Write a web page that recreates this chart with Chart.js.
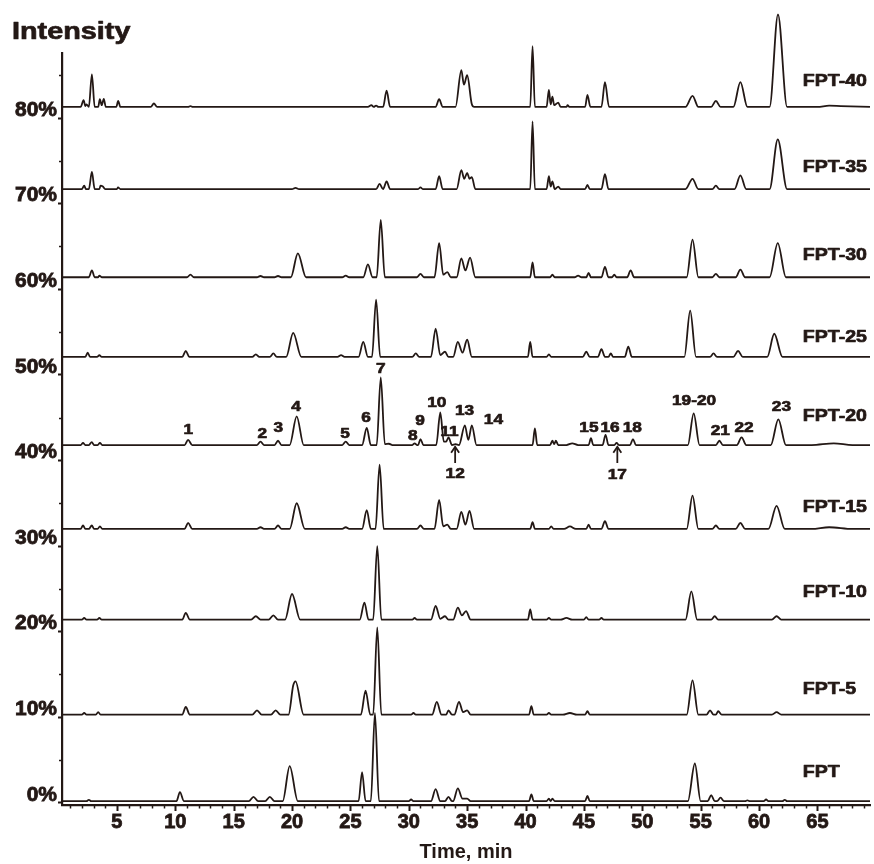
<!DOCTYPE html>
<html><head><meta charset="utf-8">
<script src="https://cdn.jsdelivr.net/npm/chart.js@4/dist/chart.umd.min.js"></script>
<style>html,body{margin:0;padding:0;background:#fff;}</style>
</head><body>
<canvas id="c" width="874" height="864"></canvas>
<script>
// ---------- DATA ----------
const sampleNames = ['FPT','FPT-5','FPT-10','FPT-15','FPT-20','FPT-25','FPT-30','FPT-35','FPT-40'];
// baseline level (in %) of each stacked trace
const baselineLevels = [0.2, 10.3, 21.4, 32.0, 41.8, 52.1, 61.4, 71.7, 81.3];
// each trace: flat list of [time(min), height above its baseline(%)]
const trace_FPT = [0.3,0, 2.4,0, 2.6,0.15, 2.8,0, 10.1,0, 10.4,1.05, 10.75,0, 16.3,0, 16.7,0.5, 17.1,0, 17.7,0, 18.1,0.5, 18.5,0, 19.2,0, 19.8,4.1, 20.5,0, 25.7,0, 26.0,3.4, 26.3,0, 26.75,0, 27.1,10.3, 27.45,0, 30.0,0, 30.2,0.2, 30.4,0, 31.9,0, 32.3,1.4, 32.7,0, 33.1,0, 33.4,0.5, 33.7,0, 33.8,0, 34.2,1.5, 34.6,0.3, 35.0,0.3, 35.3,0, 40.3,0, 40.5,0.8, 40.7,0, 41.8,0, 42.0,0.3, 42.15,0, 42.3,0.3, 42.5,0, 45.1,0, 45.3,0.6, 45.5,0, 53.9,0, 54.5,4.4, 55.0,0, 55.6,0, 55.9,0.7, 56.2,0, 56.4,0, 56.7,0.4, 57.0,0, 58.8,0, 59.0,0.1, 59.2,0, 60.4,0, 60.6,0.2, 60.8,0, 62.0,0, 62.2,0.15, 62.4,0, 69.5,0];
const trace_FPT5 = [0.3,0, 2.0,0, 2.2,0.2, 2.4,0, 3.2,0, 3.4,0.3, 3.6,0, 10.6,0, 10.9,0.9, 11.25,0, 16.6,0, 17.0,0.5, 17.4,0, 18.2,0, 18.6,0.5, 19.0,0, 19.7,0, 20.1,3.4, 20.3,3.9, 21.0,0, 25.9,0, 26.3,2.8, 26.7,0, 26.95,0, 27.3,10.2, 27.65,0, 30.2,0, 30.4,0.2, 30.6,0, 32.0,0, 32.4,1.5, 32.8,0, 33.2,0, 33.4,0.5, 33.7,0, 33.9,0, 34.3,1.5, 34.65,0.3, 35.0,0.5, 35.3,0, 40.3,0, 40.5,1.0, 40.7,0, 41.8,0, 42.0,0.2, 42.2,0, 43.2,0, 43.8,0.2, 44.4,0, 45.1,0, 45.3,0.4, 45.5,0, 53.8,0, 54.3,4.0, 54.8,0, 55.5,0, 55.8,0.5, 56.1,0, 56.3,0, 56.5,0.4, 56.8,0, 61.1,0, 61.5,0.3, 61.9,0, 69.5,0];
const trace_FPT10 = [0.3,0, 2.0,0, 2.2,0.2, 2.4,0, 3.3,0, 3.5,0.2, 3.7,0, 10.6,0, 10.9,0.8, 11.25,0, 16.5,0, 16.9,0.4, 17.3,0, 18.0,0, 18.4,0.5, 18.8,0, 19.4,0, 20.0,3.0, 20.7,0, 25.8,0, 26.2,2.0, 26.55,0, 26.95,0, 27.3,8.6, 27.65,0, 30.3,0, 30.5,0.2, 30.7,0, 31.9,0, 32.3,1.6, 32.7,0.1, 33.1,0.4, 33.4,0, 33.8,0, 34.2,1.4, 34.55,0.5, 34.9,1.0, 35.3,0, 40.2,0, 40.4,1.2, 40.6,0, 41.8,0, 42.0,0.2, 42.2,0, 43.0,0, 43.5,0.2, 44.0,0, 45.0,0, 45.2,0.3, 45.4,0, 46.3,0, 46.5,0.2, 46.7,0, 53.7,0, 54.2,3.3, 54.7,0, 55.9,0, 56.2,0.4, 56.5,0, 61.1,0, 61.5,0.4, 61.9,0, 69.5,0];
const trace_FPT15 = [0.3,0, 1.9,0, 2.1,0.4, 2.3,0, 2.6,0, 2.85,0.4, 3.05,0, 3.35,0, 3.55,0.3, 3.75,0, 10.8,0, 11.1,0.7, 11.45,0, 17.0,0, 17.3,0.2, 17.6,0, 18.5,0, 18.8,0.4, 19.1,0, 19.8,0, 20.4,3.0, 21.1,0, 24.3,0, 24.6,0.2, 24.9,0, 26.0,0, 26.4,2.2, 26.75,0, 27.15,0, 27.5,7.5, 27.85,0, 30.7,0, 31.0,0.4, 31.3,0, 32.2,0, 32.6,3.4, 32.95,0.3, 33.3,0.5, 33.6,0, 34.1,0, 34.5,2.0, 34.85,0.5, 35.2,2.1, 35.6,0, 40.4,0, 40.6,0.8, 40.8,0, 42.0,0, 42.2,0.3, 42.4,0, 43.3,0, 43.8,0.3, 44.3,0, 45.2,0, 45.4,0.5, 45.6,0, 46.5,0, 46.8,0.9, 47.1,0, 53.8,0, 54.3,3.9, 54.8,0, 56.0,0, 56.3,0.4, 56.6,0, 58.0,0, 58.4,0.7, 58.8,0, 60.8,0, 61.5,2.7, 62.2,0, 64.5,0, 66.0,0.2, 68.0,0, 69.5,0];
const trace_FPT20 = [0.3,0, 1.9,0, 2.1,0.25, 2.3,0, 2.6,0, 2.85,0.35, 3.05,0, 3.35,0, 3.55,0.25, 3.75,0, 10.8,0, 11.1,0.6, 11.45,0, 17.0,0, 17.3,0.4, 17.6,0, 18.5,0, 18.8,0.5, 19.1,0, 19.8,0, 20.4,3.35, 21.0,0, 24.3,0, 24.6,0.4, 24.9,0, 26.0,0, 26.4,2.0, 26.75,0, 27.25,0, 27.6,7.9, 27.95,0.1, 28.3,0.15, 28.6,0, 30.3,0, 30.5,0.2, 30.7,0, 30.8,0, 31.0,0.7, 31.25,0, 32.35,0, 32.7,3.8, 33.0,0.4, 33.2,0.4, 33.4,0.9, 33.7,0, 34.0,0.1, 34.3,0, 34.8,2.3, 35.1,0.6, 35.4,2.3, 35.8,0, 40.6,0, 40.8,1.95, 41.0,0, 42.1,0, 42.3,0.5, 42.45,0.1, 42.6,0.5, 42.8,0, 43.5,0, 44.0,0.2, 44.5,0, 45.4,0, 45.6,0.8, 45.8,0, 46.6,0, 46.85,1.2, 47.1,0, 47.6,0, 47.8,0.25, 48.0,0, 48.95,0, 49.2,0.7, 49.45,0, 53.9,0, 54.4,3.7, 54.9,0, 56.3,0, 56.6,0.5, 56.9,0, 58.1,0, 58.5,0.9, 58.9,0, 61.0,0, 61.65,3.0, 62.3,0, 64.5,0, 66.4,0.2, 68.0,0, 69.5,0];
const trace_FPT25 = [0.3,0, 2.3,0, 2.5,0.5, 2.7,0, 3.3,0, 3.5,0.2, 3.7,0, 10.6,0, 10.9,0.7, 11.2,0, 16.6,0, 16.9,0.3, 17.2,0, 18.1,0, 18.4,0.4, 18.7,0, 19.5,0, 20.1,2.8, 20.8,0, 23.9,0, 24.2,0.2, 24.5,0, 25.7,0, 26.1,1.75, 26.5,0, 26.85,0, 27.2,6.7, 27.55,0, 30.3,0, 30.6,0.4, 30.9,0, 31.9,0, 32.3,3.3, 32.7,0.2, 33.1,0.6, 33.4,0, 33.8,0, 34.2,1.75, 34.6,0.5, 35.0,2.0, 35.4,0, 40.2,0, 40.4,1.75, 40.6,0, 41.8,0, 42.0,0.3, 42.2,0, 44.9,0, 45.2,0.6, 45.5,0, 46.2,0, 46.5,0.9, 46.8,0, 47.1,0, 47.3,0.4, 47.5,0, 48.5,0, 48.8,1.2, 49.1,0, 53.6,0, 54.1,5.4, 54.6,0, 55.8,0, 56.1,0.4, 56.4,0, 57.8,0, 58.2,0.7, 58.6,0, 60.7,0, 61.3,2.7, 62.0,0, 69.5,0];
const trace_FPT30 = [0.3,0, 2.6,0, 2.86,0.8, 3.1,0, 3.4,0, 3.5,0.2, 3.7,0, 11.0,0, 11.3,0.3, 11.6,0, 17.0,0, 17.3,0.15, 17.6,0, 18.5,0, 18.8,0.15, 19.1,0, 19.9,0, 20.5,2.8, 21.2,0, 24.3,0, 24.6,0.2, 24.9,0, 26.1,0, 26.5,1.5, 26.9,0, 27.25,0, 27.6,6.7, 27.95,0, 30.7,0, 31.0,0.4, 31.3,0, 32.2,0, 32.6,4.0, 32.95,0.3, 33.3,0.6, 33.6,0, 34.1,0, 34.5,2.2, 34.85,0.8, 35.25,2.3, 35.7,0, 40.4,0, 40.6,1.75, 40.8,0, 42.1,0, 42.3,0.3, 42.5,0, 44.2,0, 44.5,0.2, 44.8,0, 45.2,0, 45.4,0.5, 45.6,0, 46.5,0, 46.8,1.2, 47.1,0, 47.4,0, 47.6,0.3, 47.8,0, 48.7,0, 49.0,0.8, 49.3,0, 53.8,0, 54.3,4.4, 54.8,0, 56.0,0, 56.3,0.4, 56.6,0, 58.0,0, 58.4,0.9, 58.8,0, 60.9,0, 61.6,4.0, 62.3,0, 69.5,0];
const trace_FPT35 = [0.3,0, 2.0,0, 2.2,0.4, 2.35,0, 2.6,0, 2.86,2.0, 3.1,0, 3.5,0, 3.6,0.4, 3.8,0.3, 4.0,0, 5.0,0, 5.1,0.2, 5.3,0, 20.0,0, 20.3,0.15, 20.6,0, 27.2,0, 27.5,0.6, 27.8,0, 28.1,0.9, 28.4,0, 30.8,0, 31.0,0.2, 31.2,0, 32.3,0, 32.6,1.5, 32.9,0, 34.1,0, 34.5,2.2, 34.75,1.2, 35.0,1.9, 35.2,1.2, 35.4,1.4, 35.7,0, 40.4,0, 40.6,7.9, 40.8,0, 41.8,0, 42.0,1.5, 42.15,0.3, 42.3,0.9, 42.5,0, 42.8,0.3, 43.0,0, 45.1,0, 45.3,0.5, 45.5,0, 46.5,0, 46.8,1.75, 47.1,0, 53.7,0, 54.3,1.2, 54.8,0, 56.0,0, 56.3,0.4, 56.6,0, 57.9,0, 58.4,1.6, 58.9,0, 60.9,0, 61.6,5.8, 62.4,0, 69.5,0];
const trace_FPT40 = [0.3,0, 1.9,0, 2.15,0.8, 2.3,0.1, 2.4,0.3, 2.6,0, 2.86,3.8, 3.1,0, 3.4,0, 3.54,0.9, 3.7,0.2, 3.88,0.95, 4.05,0, 4.95,0, 5.11,0.7, 5.3,0, 7.9,0, 8.17,0.4, 8.45,0, 11.1,0, 11.3,0.1, 11.5,0, 26.5,0, 26.8,0.2, 27.0,0, 27.2,0.15, 27.4,0, 27.8,0, 28.1,1.9, 28.4,0, 32.3,0, 32.6,0.9, 32.9,0, 34.0,0, 34.5,4.3, 34.72,2.6, 35.0,3.7, 35.4,0.3, 35.6,0, 40.4,0, 40.6,7.1, 40.8,0, 41.8,0, 42.0,2.0, 42.15,0.3, 42.3,1.2, 42.45,0.2, 42.8,0.5, 43.0,0, 43.5,0, 43.6,0.2, 43.75,0, 45.1,0, 45.3,1.4, 45.55,0, 46.5,0, 46.8,2.9, 47.15,0, 53.7,0, 54.3,1.3, 54.8,0, 55.9,0, 56.3,0.7, 56.7,0, 57.8,0, 58.4,2.9, 59.0,0, 60.9,0, 61.62,10.8, 62.4,0, 65.0,0, 66.0,0.15, 67.0,0.1, 69.5,0];
const traces = [trace_FPT, trace_FPT5, trace_FPT10, trace_FPT15, trace_FPT20, trace_FPT25, trace_FPT30, trace_FPT35, trace_FPT40];

const yTickValues = [0,10,20,30,40,50,60,70,80];
const xTickValues = [5,10,15,20,25,30,35,40,45,50,55,60,65];
const peakNumbers = ['1','2','3','4','5','6','7','8','9','10','11','12','13','14','15','16','17','18','19-20','21','22','23'];

// ---------- LAYOUT / STYLE (not data) ----------
const ink = '#231815';
const FONT = "'Liberation Sans', Arial, Helvetica, sans-serif";
// label anchors in axis units [time, %]
const traceLabelAnchors = [[63.75,3.6],[63.75,13.3],[63.75,24.6],[63.75,34.5],[63.75,45.1],[63.75,54.4],[63.75,64.0],[63.75,74.2],[63.75,84.35]];
const peakLabelAnchors = [[11.11,43.57],[17.45,43.1],[18.82,43.77],[20.34,46.3],[24.54,43.1],[26.34,44.94],[27.6,50.67],[30.34,42.87],[30.97,44.66],[32.4,46.69],[33.48,43.38],[33.97,38.43],[34.77,45.83],[37.25,44.74],[45.43,43.81],[47.23,43.81],[47.86,38.32],[49.14,43.81],[54.43,47.0],[56.68,43.49],[58.71,43.81],[61.91,46.26]];
const arrowAnchors = [[33.97,39.7,41.6],[47.86,39.7,41.6]];

const datasets = traces.map((arr, i) => {
  const pts = [];
  for (let k = 0; k < arr.length; k += 2) pts.push({x: arr[k], y: baselineLevels[i] + arr[k+1]});
  return {label: sampleNames[i], data: pts, borderColor: ink, borderWidth: 1.8, pointRadius: 0,
          cubicInterpolationMode: 'monotone', fill: false, clip: false};
});

function stretchText(ctx, txt, x, y, size, sx, align) {
  ctx.save();
  ctx.font = 'bold ' + size + 'px ' + FONT;
  ctx.fillStyle = ink;
  ctx.strokeStyle = ink;
  ctx.lineWidth = 0.7;
  ctx.lineJoin = 'round';
  ctx.textBaseline = 'middle';
  const w = ctx.measureText(txt).width * sx;
  let x0 = x;
  if (align === 'center') x0 = x - w/2;
  else if (align === 'right') x0 = x - w;
  ctx.translate(x0, y);
  ctx.scale(sx, 1);
  ctx.textAlign = 'left';
  ctx.fillText(txt, 0, 0);
  ctx.strokeText(txt, 0, 0);
  ctx.restore();
}

const decor = {
  id: 'decor',
  afterDraw(chart) {
    const ctx = chart.ctx, xs = chart.scales.x, ys = chart.scales.y, ca = chart.chartArea;
    ctx.save();
    ctx.strokeStyle = ink;
    // x minor / major ticks
    for (let t = 1; t <= 69; t++) {
      const px = Math.round(xs.getPixelForValue(t)) + 0.5;
      const major = t % 5 === 0;
      ctx.lineWidth = major ? 2 : 1.5;
      ctx.beginPath();
      ctx.moveTo(px, ca.bottom);
      ctx.lineTo(px, ca.bottom + (major ? 6 : 3.5));
      ctx.stroke();
    }
    // y minor ticks
    for (let v = 5; v <= 85; v += 10) {
      const py = Math.round(ys.getPixelForValue(v)) + 0.5;
      ctx.lineWidth = 1.5;
      ctx.beginPath();
      ctx.moveTo(ca.left - 3, py);
      ctx.lineTo(ca.left, py);
      ctx.stroke();
    }
    ctx.restore();
    // Intensity
    stretchText(ctx, 'Intensity', 12, 32, 24, 1.2, 'left');
    // trace labels
    traceLabelAnchors.forEach((a, i) => {
      stretchText(ctx, sampleNames[i], xs.getPixelForValue(a[0]), ys.getPixelForValue(a[1]), 17, 1.15, 'left');
    });
    // peak labels
    peakLabelAnchors.forEach((a, i) => {
      stretchText(ctx, peakNumbers[i], xs.getPixelForValue(a[0]), ys.getPixelForValue(a[1]), 15, 1.15, 'center');
    });
    // arrows
    ctx.save();
    ctx.strokeStyle = ink; ctx.fillStyle = ink; ctx.lineWidth = 1.8;
    arrowAnchors.forEach(a => {
      const px = xs.getPixelForValue(a[0]), y0 = ys.getPixelForValue(a[1]), y1 = ys.getPixelForValue(a[2]);
      ctx.beginPath(); ctx.moveTo(px, y0); ctx.lineTo(px, y1); ctx.stroke();
      ctx.beginPath(); ctx.moveTo(px - 4, y1 + 6); ctx.lineTo(px, y1); ctx.lineTo(px + 4, y1 + 6); ctx.stroke();
    });
    ctx.restore();
  }
};

new Chart(document.getElementById('c'), {
  type: 'line',
  data: {datasets},
  options: {
    responsive: false, animation: false, devicePixelRatio: 1,
    layout: {padding: {left: 12, right: 4, top: 53, bottom: 0}},
    plugins: {legend: {display: false}, tooltip: {enabled: false}, title: {display: false}},
    scales: {
      x: {
        type: 'linear', min: 0.3, max: 69.5,
        afterBuildTicks: s => { s.ticks = xTickValues.map(v => ({value: v})); },
        afterFit: s => { s.height = 59; },
        grid: {display: false, drawTicks: false},
        border: {display: true, color: ink, width: 2.2},
        ticks: {font: {family: FONT, weight: 'bold', size: 20}, color: ink, padding: 5, maxRotation: 0, autoSkip: false,
                textStrokeColor: ink, textStrokeWidth: 0.8},
        title: {display: true, text: 'Time, min', font: {family: FONT, weight: 'bold', size: 20}, color: ink, padding: 0}
      },
      y: {
        type: 'linear', min: -0.25, max: 87.6,
        afterBuildTicks: s => { s.ticks = yTickValues.map(v => ({value: v})); },
        afterFit: s => { s.width = 50; },
        grid: {drawOnChartArea: false, drawTicks: true, tickLength: 4, tickWidth: 2, tickColor: ink},
        border: {display: true, color: ink, width: 2.2},
        ticks: {callback: v => v + '%', font: {family: FONT, weight: 'bold', size: 21}, color: ink, padding: 1, labelOffset: -8,
                textStrokeColor: ink, textStrokeWidth: 0.8}
      }
    }
  },
  plugins: [decor]
});
</script>
</body></html>
